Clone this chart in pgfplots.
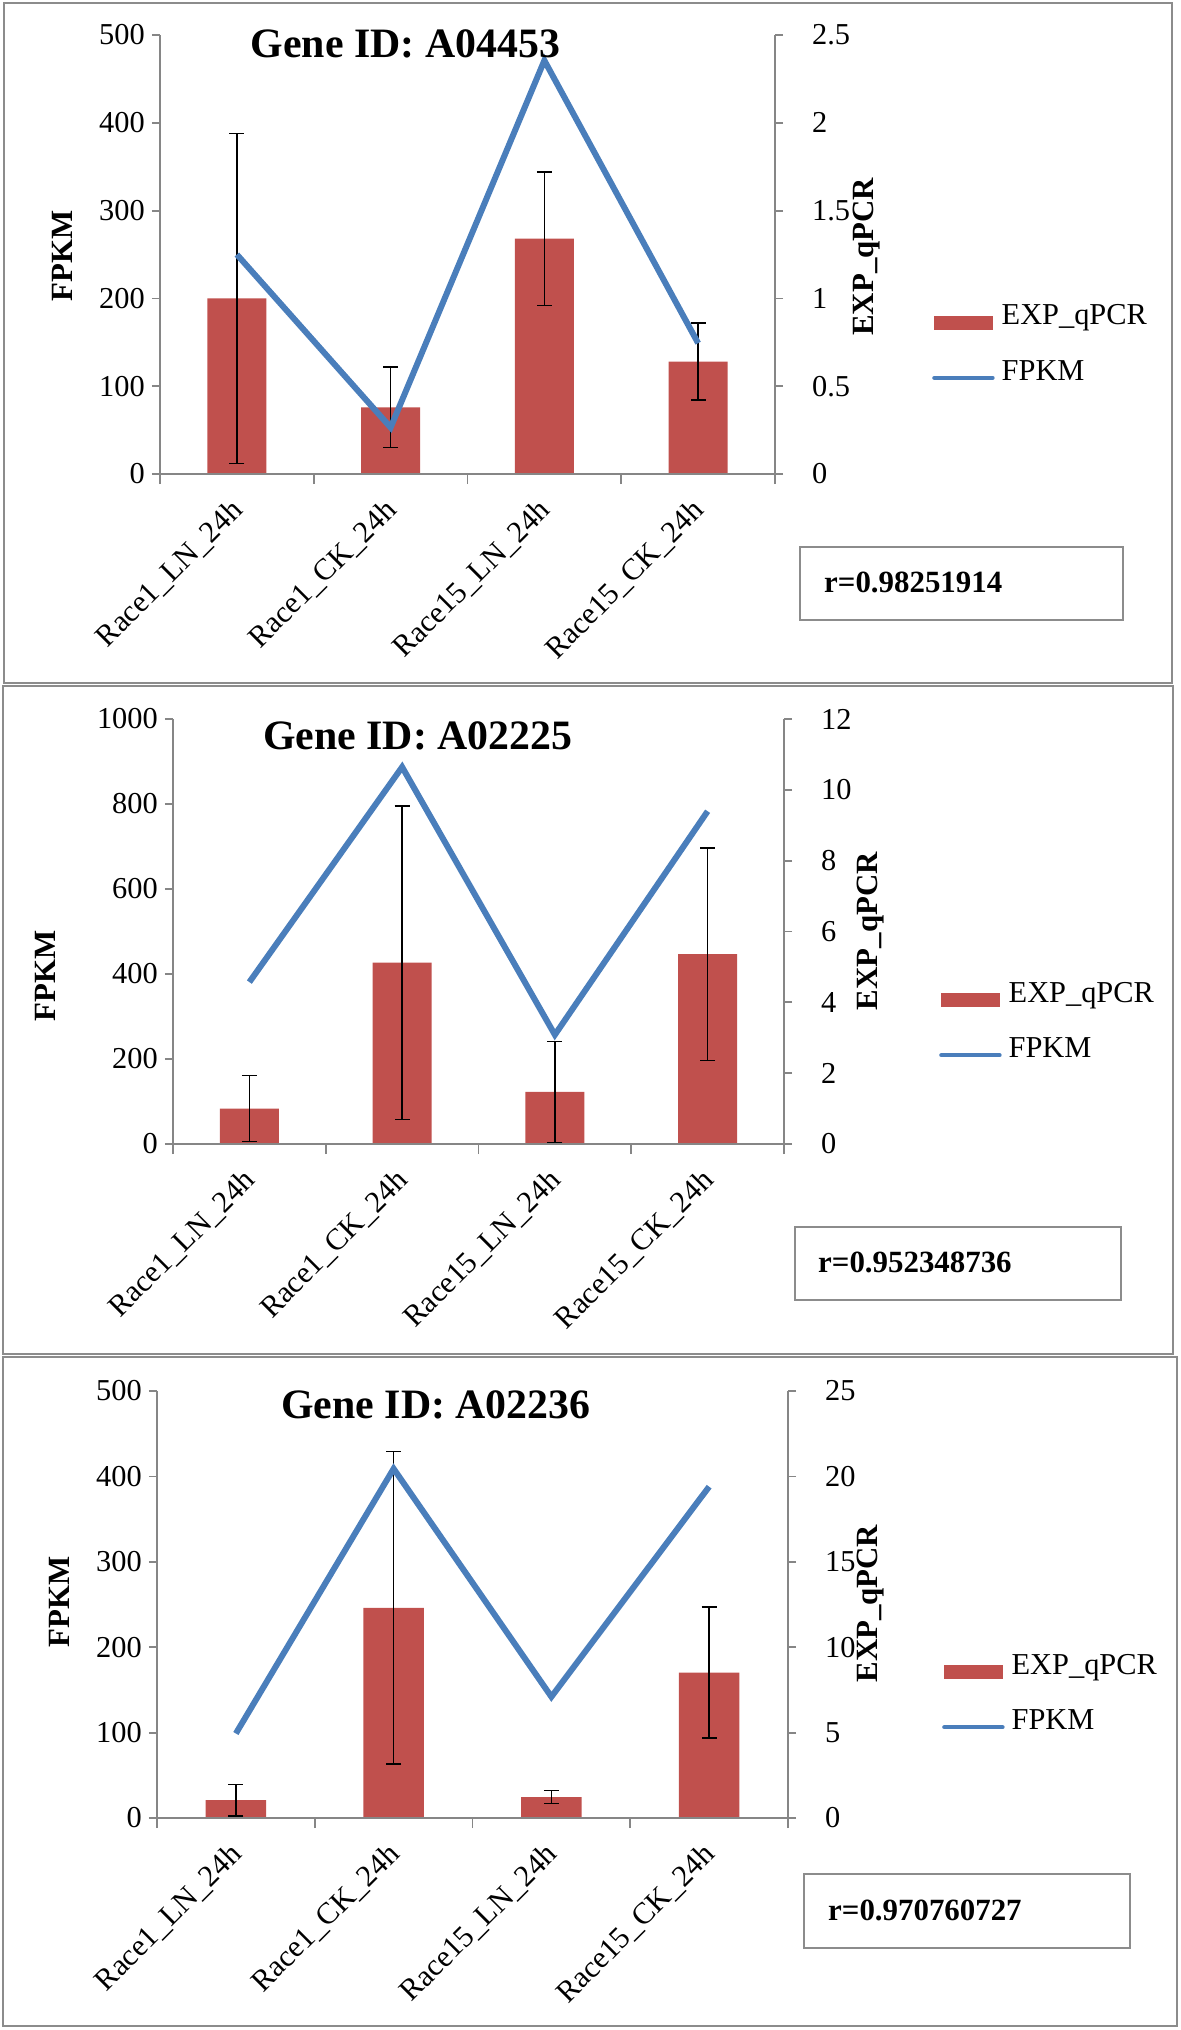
\documentclass[border=0pt]{standalone}
\usepackage{fontspec}
\setmainfont{Liberation Serif}
\usepackage{pgfplots}
\pgfplotsset{compat=1.18}
\definecolor{barred}{HTML}{C0504D}
\definecolor{fpkmblue}{HTML}{4A7EBB}
\definecolor{axisgray}{HTML}{868686}
\definecolor{framegray}{HTML}{8C8C8C}
\newcommand\fr{\fontsize{30.5}{34}\selectfont}
\newcommand\fb{\fontsize{31}{35}\selectfont\bfseries}
\newcommand\ft{\fontsize{42}{46}\selectfont\bfseries}
\pgfplotsset{
 panel/.style={scale only axis, anchor=south west, xmin=-0.5, xmax=3.5, ymin=0, clip=false,
   axis line style={draw=axisgray, line width=1.8bp},
   tick style={draw=axisgray, line width=1.8bp},
   major tick length=8bp, minor tick length=10bp, tick align=outside,
   tick label style={font=\fr},
   /pgf/number format/assume math mode=true, /pgf/number format/1000 sep={},
   every axis y label/.style={rotate=90, anchor=center, font=\fb},
   every axis title/.style={anchor=center, font=\ft},
 },
 barpanel/.style={panel, axis y line*=right, axis x line=none, xtick=\empty,
   yticklabel style={inner xsep=29bp, inner ysep=0pt}},
 linepanel/.style={panel, axis y line*=left, axis x line*=bottom, xtick={0,1,2,3},
   yticklabel style={inner xsep=7bp, inner ysep=0pt},
   xticklabels={Race1\_LN\_24h,Race1\_CK\_24h,Race15\_LN\_24h,Race15\_CK\_24h},
   major x tick style={draw=none}, minor xtick={-0.5,0.5,1.5,2.5,3.5},
   xticklabel style={rotate=45, anchor=north east, inner sep=0pt, xshift=-16bp, yshift=-5bp},
   legend cell align=left,
   legend style={draw=none, fill=none, inner sep=0pt, anchor=west, font=\fr, row sep=31bp,
     nodes={inner sep=0pt, anchor=mid west},
     /tikz/every odd column/.append style={column sep=7bp}},
 },
 barplot/.style={ybar, bar width=0.385, fill=barred, draw=none,
   error bars/.cd, y dir=both, y explicit,
   error bar style={black, line width=1.6bp},
   error mark options={rotate=90, black, mark size=7.5bp, line width=1.6bp}},
 lineplot/.style={fpkmblue, line width=6bp,
   legend image code/.code={\draw[fpkmblue, line width=4.5bp, line cap=round] (0bp,0bp) -- (58bp,0bp);}},
}
\begin{document}
\begin{tikzpicture}
\useasboundingbox (0,0) rectangle (1181bp,-2030bp);
% ---------------- Panel 1 ----------------
\begin{axis}[barpanel, at={(160bp,-474bp)}, width=615bp, height=439bp,
  ymax=2.5, ytick={0,0.5,1,1.5,2,2.5},
  ylabel={EXP\_qPCR}, ylabel style={at={(axis description cs:1.1496,0.495)}}]
\addplot[barplot] table[x=x, y=y, y error=e] {
x y e
0 1.00 0.94
1 0.38 0.23
2 1.34 0.38
3 0.64 0.22
};
\end{axis}
\begin{axis}[linepanel, at={(160bp,-474bp)}, width=615bp, height=439bp,
  ymax=500, ytick={0,100,200,300,400,500},
  ylabel={FPKM}, ylabel style={at={(axis description cs:-0.159,0.497)}},
  title={Gene ID: A04453}, title style={at={(axis description cs:0.399,0.98)}},
  legend style={at={(axis description cs:1.2553,0.298)}}]
\addlegendimage{legend image code/.code={\fill[barred] (0bp,-6.5bp) rectangle (58bp,6.5bp);}}
\addlegendentry{EXP\_qPCR}
\addplot[lineplot] coordinates {(0,250) (1,53) (2,471) (3,149)};
\addlegendentry{FPKM}
\end{axis}
% ---------------- Panel 2 ----------------
\begin{axis}[barpanel, at={(173bp,-1144bp)}, width=611bp, height=425bp,
  ymax=12, ytick={0,2,4,6,8,10,12},
  ylabel={EXP\_qPCR}, ylabel style={at={(axis description cs:1.142,0.501)}}]
\addplot[barplot] table[x=x, y=y, y error=e] {
x y e
0 1.00 0.93
1 5.12 4.43
2 1.47 1.43
3 5.36 3.00
};
\end{axis}
\begin{axis}[linepanel, at={(173bp,-1144bp)}, width=611bp, height=425bp,
  ymax=1000, ytick={0,200,400,600,800,1000},
  ylabel={FPKM}, ylabel style={at={(axis description cs:-0.2095,0.395)}},
  title={Gene ID: A02225}, title style={at={(axis description cs:0.4007,0.96)}},
  legend style={at={(axis description cs:1.2537,0.2906)}}]
\addlegendimage{legend image code/.code={\fill[barred] (0bp,-6.5bp) rectangle (58bp,6.5bp);}}
\addlegendentry{EXP\_qPCR}
\addplot[lineplot] coordinates {(0,381) (1,887) (2,257) (3,783)};
\addlegendentry{FPKM}
\end{axis}
% ---------------- Panel 3 ----------------
\begin{axis}[barpanel, at={(157bp,-1818bp)}, width=631bp, height=427bp,
  ymax=25, ytick={0,5,10,15,20,25},
  ylabel={EXP\_qPCR}, ylabel style={at={(axis description cs:1.1315,0.502)}}]
\addplot[barplot] table[x=x, y=y, y error=e] {
x y e
0 1.05 0.92
1 12.31 9.14
2 1.23 0.39
3 8.51 3.83
};
\end{axis}
\begin{axis}[linepanel, at={(157bp,-1818bp)}, width=631bp, height=427bp,
  ymax=500, ytick={0,100,200,300,400,500},
  ylabel={FPKM}, ylabel style={at={(axis description cs:-0.155,0.506)}},
  title={Gene ID: A02236}, title style={at={(axis description cs:0.442,0.967)}},
  legend style={at={(axis description cs:1.244,0.2939)}}]
\addlegendimage{legend image code/.code={\fill[barred] (0bp,-6.5bp) rectangle (58bp,6.5bp);}}
\addlegendentry{EXP\_qPCR}
\addplot[lineplot] coordinates {(0,99) (1,409) (2,142) (3,388)};
\addlegendentry{FPKM}
\end{axis}
% ---------------- frames and r boxes ----------------
\draw[framegray, line width=2.5bp] (4bp,-3bp) rectangle (1172bp,-683bp);
\draw[framegray, line width=2.5bp] (3bp,-686bp) rectangle (1173bp,-1354bp);
\draw[framegray, line width=2.5bp] (3bp,-1357bp) rectangle (1177bp,-2026bp);
\draw[black!45, line width=2.5bp] (800bp,-547bp) rectangle (1123bp,-620bp);
\node[anchor=west, inner sep=0pt, font=\fb] at (824bp,-582bp) {r=0.98251914};
\draw[black!45, line width=2.5bp] (795bp,-1227bp) rectangle (1121bp,-1300bp);
\node[anchor=west, inner sep=0pt, font=\fb] at (818bp,-1262bp) {r=0.952348736};
\draw[black!45, line width=2.5bp] (804bp,-1874bp) rectangle (1130bp,-1948bp);
\node[anchor=west, inner sep=0pt, font=\fb] at (828bp,-1910bp) {r=0.970760727};
\end{tikzpicture}
\end{document}
